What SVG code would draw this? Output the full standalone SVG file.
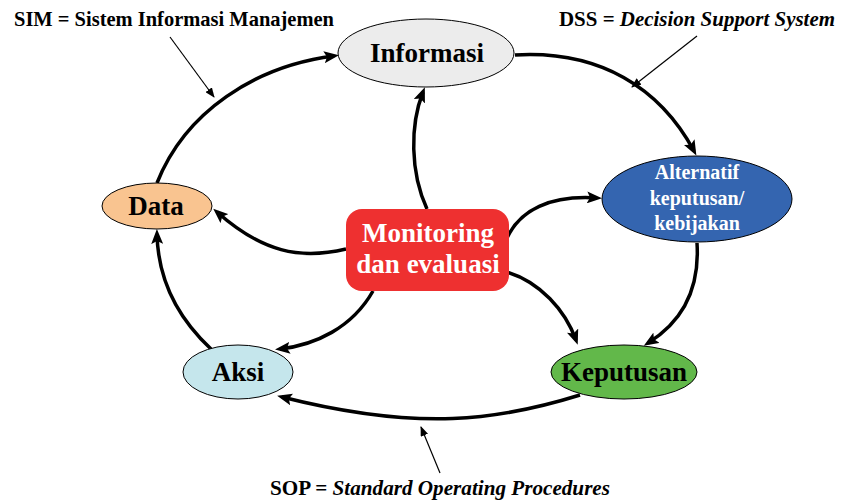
<svg xmlns="http://www.w3.org/2000/svg" width="841" height="503" viewBox="0 0 841 503">
  <defs>
    <marker id="arrow" markerUnits="userSpaceOnUse" markerWidth="16" markerHeight="12" refX="10" refY="6" orient="auto">
      <path d="M0,0 L15,6 L0,12 L3,6 z" fill="#000"/>
    </marker>
    <marker id="arrow-small" markerUnits="userSpaceOnUse" markerWidth="10" markerHeight="8" refX="9" refY="4" orient="auto">
      <path d="M0,0 L10,4 L0,8 z" fill="#000"/>
    </marker>
  </defs>
  <style>
    .node { stroke: #000; stroke-width: 1; }
    .label { font-family: "Liberation Serif", "Times New Roman", serif; font-weight: bold; text-anchor: middle; }
    .big { font-size: 27px; }
    .small { font-size: 20px; fill: #fff; }
    .note { font-family: "Liberation Serif", "Times New Roman", serif; font-weight: bold; font-size: 21px; }
    .it { font-style: italic; }
    .edge { fill: none; stroke: #000; stroke-width: 3.5; marker-end: url(#arrow); }
    .pointer { fill: none; stroke: #000; stroke-width: 1.2; marker-end: url(#arrow-small); }
  </style>
  <rect width="841" height="503" fill="#fff"/>

  <!-- cycle and monitoring connectors -->
  <g id="connectors">
    <path class="edge" d="M157,183 C185,112 255,66 334,56"/>
    <path class="edge" d="M515,55 C600,50 660,88 694,151"/>
    <path class="edge" d="M697,243 C700,290 682,322 648,343"/>
    <path class="edge" d="M580,395 C500,420 420,432 282,397"/>
    <path class="edge" d="M211,349 C180,320 158,282 157,234"/>
    <path class="edge" d="M427,209 C410,172 410,125 423,92"/>
    <path class="edge" d="M346,249 C300,260 262,252 217,212"/>
    <path class="edge" d="M507,238 C520,210 550,195 597,198"/>
    <path class="edge" d="M507,272 C540,282 565,310 576,340"/>
    <path class="edge" d="M373,291 C352,328 315,345 280,349"/>
    <!-- annotation pointers -->
    <path class="pointer" d="M170,37 L214,97"/>
    <path class="pointer" d="M697,36 L632,87"/>
    <path class="pointer" d="M440,473 L421,427"/>
  </g>

  <g id="informasi">
    <ellipse class="node" cx="426" cy="53" rx="88" ry="34" fill="#ececec"/>
    <text class="label big" x="427" y="62">Informasi</text>
  </g>
  <g id="alternatif">
    <ellipse class="node" cx="697" cy="199" rx="95" ry="43" fill="#3465b0"/>
    <text class="label small" x="697" y="179">Alternatif</text>
    <text class="label small" x="697" y="205">keputusan/</text>
    <text class="label small" x="697" y="230">kebijakan</text>
  </g>
  <g id="keputusan">
    <ellipse class="node" cx="624" cy="372" rx="73" ry="27" fill="#62b84a"/>
    <text class="label big" x="624" y="381">Keputusan</text>
  </g>
  <g id="aksi">
    <ellipse class="node" cx="238" cy="372" rx="55" ry="27" fill="#c5e6ec"/>
    <text class="label big" x="238" y="381">Aksi</text>
  </g>
  <g id="data">
    <ellipse class="node" cx="157" cy="206" rx="55" ry="23" fill="#f9c490"/>
    <text class="label big" x="156" y="215">Data</text>
  </g>
  <g id="monitoring">
    <rect x="346" y="209" width="163" height="82" rx="16" fill="#ee3030"/>
    <text class="label big" x="428" y="242" fill="#fff">Monitoring</text>
    <text class="label big" x="428" y="273" fill="#fff">dan evaluasi</text>
  </g>

  <g id="notes">
    <text class="note" x="14" y="26" textLength="320" lengthAdjust="spacingAndGlyphs">SIM = Sistem Informasi Manajemen</text>
    <text class="note" x="559" y="26" textLength="276" lengthAdjust="spacingAndGlyphs">DSS = <tspan class="it">Decision Support System</tspan></text>
    <text class="note" x="270" y="495" textLength="340" lengthAdjust="spacingAndGlyphs">SOP = <tspan class="it">Standard Operating Procedures</tspan></text>
  </g>
</svg>
